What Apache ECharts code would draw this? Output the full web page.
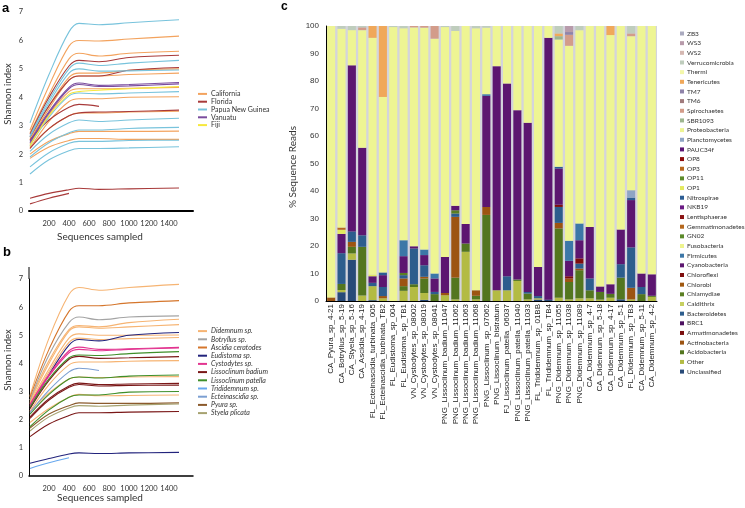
<!DOCTYPE html>
<html>
<head>
<meta charset="utf-8">
<script src="https://cdn.jsdelivr.net/npm/echarts@6/dist/echarts.min.js"></script>
<style>
html, body { margin: 0; padding: 0; background: #fff; }
#chart { width: 745px; height: 508px; }
</style>
</head>
<body>
<div id="chart"></div>
<script>
// ---- panels a and b: rarefaction curves, y read at these sequence counts ----
var seqX = [10, 200, 400, 500, 700, 1000, 1500];

// panel a, by region
var aCalifornia = [
  [2.85, 4.4, 5.8, 6.0, 5.98, 6.05, 6.15],
  [2.75, 4.1, 5.35, 5.55, 5.45, 5.55, 5.62],
  [2.55, 3.7, 4.7, 4.85, 4.85, 4.95, 5.0],
  [2.5, 3.6, 4.6, 4.75, 4.75, 4.8, 4.85],
  [2.35, 3.4, 4.2, 4.3, 4.3, 4.32, 4.35],
  [2.2, 3.15, 3.85, 3.95, 3.95, 4.0, 4.02],
  [2.25, 2.9, 3.35, 3.45, 3.45, 3.48, 3.51],
  [2.0, 2.45, 2.72, 2.8, 2.8, 2.8, 2.81],
  [1.85, 2.25, 2.48, 2.55, 2.55, 2.52, 2.52]
];
var aFlorida = [
  [2.7, 4.0, 5.1, 5.3, 5.25, 5.4, 5.48],
  [2.6, 3.7, 4.6, 4.75, 4.75, 4.95, 5.05],
  [2.5, 3.2, 3.65, 3.75, 3.68, null, null],
  [2.2, 2.9, 3.35, 3.45, 3.48, 3.5, 3.55],
  [0.45, 0.62, 0.75, 0.8, 0.76, 0.78, 0.81],
  [0.25, 0.45, 0.62, null, null, null, null]
];
var aPNG = [
  [3.1, 4.8, 6.3, 6.6, 6.55, 6.62, 6.73],
  [2.65, 3.9, 5.0, 5.2, 5.12, 5.2, 5.3],
  [2.6, 3.8, 4.85, 5.0, 4.92, 4.93, 4.96],
  [2.3, 3.3, 4.05, 4.15, 4.12, 4.15, 4.2],
  [2.1, 2.7, 3.1, 3.2, 3.15, 3.2, 3.26],
  [1.9, 2.4, 2.75, 2.85, 2.85, 2.9, 2.94],
  [1.55, 2.05, 2.38, 2.45, 2.45, 2.48, 2.49],
  [1.3, 1.8, 2.12, 2.2, 2.2, 2.22, 2.26]
];
var aVanuatu = [
  [2.45, 3.5, 4.35, 4.5, 4.42, 4.45, 4.52],
  [2.4, 3.45, 4.3, 4.45, 4.38, 4.4, 4.47]
];
var aFiji = [
  [2.3, 3.35, 4.1, 4.2, 4.25, 4.3, 4.38]
];

// panel b, by genus
var bDidemnum = [
  [2.85, 4.9, 6.45, 6.7, 6.6, 6.7, 6.81],
  [2.7, 4.1, 5.2, 5.35, 5.3, 5.45, 5.57],
  [2.65, 4.0, 5.15, 5.3, 5.25, 5.3, 5.38],
  [2.6, 3.8, 4.9, 5.05, 5.0, 5.0, 5.01],
  [2.55, 3.7, 4.75, 4.9, 4.85, 4.88, 4.92],
  [2.3, 3.25, 3.95, 4.05, 4.05, 4.08, 4.1],
  [2.3, 2.95, 3.45, 3.52, 3.5, 3.52, 3.53],
  [1.9, 2.4, 2.8, 2.9, 2.85, 2.86, 2.88]
];
var bBotryllus = [[2.7, 4.3, 5.45, 5.65, 5.55, 5.65, 5.69]];
var bAscidia = [[2.8, 4.5, 5.85, 6.05, 6.05, 6.15, 6.23]];
var bEudistoma = [
  [2.4, 3.6, 4.65, 4.85, 4.8, 5.0, 5.1],
  [0.45, 0.62, 0.78, 0.82, 0.8, 0.82, 0.84]
];
var bCystodytes = [
  [2.55, 3.6, 4.45, 4.58, 4.5, 4.52, 4.57],
  [2.5, 3.55, 4.38, 4.5, 4.45, 4.5, 4.55]
];
var bBadium = [
  [2.4, 3.4, 4.15, 4.25, 4.18, 4.2, 4.24],
  [2.1, 2.75, 3.2, 3.3, 3.25, 3.27, 3.29],
  [2.05, 2.7, 3.15, 3.25, 3.2, 3.22, 3.23],
  [1.4, 1.85, 2.15, 2.25, 2.25, 2.27, 2.29]
];
var bPatella = [
  [2.45, 3.45, 4.2, 4.3, 4.28, 4.35, 4.42],
  [2.2, 2.9, 3.45, 3.52, 3.48, 3.55, 3.59],
  [1.75, 2.35, 2.8, 2.88, 2.88, 2.98, 3.0]
];
var bTrididemnum = [[0.27, 0.47, 0.65, null, null, null, null]];
var bEcteinascidia = [[2.25, 3.05, 3.7, 3.83, 3.75, null, null]];
var bPyura = [[1.7, 2.2, 2.5, 2.6, 2.58, 2.58, 2.6]];
var bStyela = [[1.6, 2.1, 2.42, 2.5, 2.48, 2.52, 2.56]];

// ---- panel c: % sequence reads per sample ----
var samples = ['CA_Pyura_sp_4-21', 'CA_Botryllus_sp_5-19', 'CA_Styela_sp_5-16', 'CA_Ascidia_sp_4-19',
  'FL_Ecteinascidia_turbinata_005', 'FL_Ecteinascidia_turbinata_TB2', 'FL_Eudistoma_sp_004', 'FL_Eudistoma_sp_TB1',
  'VN_Cystodytes_sp_08002', 'VN_Cystodytes_sp_08019', 'VN_Cystodytes_sp_08041', 'PNG_Lissoclinum_badium_11047',
  'PNG_Lissoclinum_badium_11062', 'PNG_Lissoclinum_badium_11063', 'PNG_Lissoclinum_badium_11068', 'PNG_Lissoclinum_sp_07062',
  'PNG_Lissoclinum_bistratum', 'FJ_Lissoclinum_patella_06037', 'PNG_Lissoclinum_patella_11040', 'PNG_Lissoclinum_patella_11033',
  'FL_Trididemnum_sp_01BB', 'FL_Trididemnum_sp_TB4', 'PNG_Didemnum_sp_11055', 'PNG_Didemnum_sp_11038',
  'PNG_Didemnum_sp_11089', 'CA_Didemnum_sp_4-7', 'CA_Didemnum_sp_5-18', 'CA_Didemnum_sp_4-17',
  'CA_Didemnum_sp_5-1', 'FL_Didemnum_sp_TB3', 'CA_Didemnum_sp_5-11', 'CA_Didemnum_sp_4-2'];

var unclassified   = [0,3.2,15.0,0,0.3,0,0,0,0,0.4,0,0,0,0,0,0,0,0,0,0,0.5,0.5,0,0,0,0,0,0,0.6,0,0,0];
var other          = [0,0.8,2.3,2.0,5.1,1.0,0,3.7,5.1,2.5,0,2.1,0.6,17.9,0.6,0,3.9,3.9,7.3,0.6,0.5,0,1.2,0.6,1.0,1.0,0.5,1.2,0,0.6,0,1.5];
var acidobacteria  = [0,2.2,2.4,17.7,0,0,0,1.7,1.0,5.3,2.5,0,7.9,3.0,1.3,31.3,0,0,0.5,2.1,0,0,25.2,6.3,10.2,2.9,2.8,1.4,7.9,0,2.5,0.4];
var actinobacteria = [1.3,0,1.8,0,0,0.8,0,2.8,0,0.6,0,0.8,22.1,0,2.0,2.9,0,0,0,0,0,0,2.0,1.3,0.6,0,0,0,0,4.2,0,0];
var bacteroidetes  = [0,11.2,3.8,4.2,1.2,3.3,0,1.2,13.0,4.2,0.8,0,1.2,0,0,0,0,5.1,0,0.6,0.8,0,5.8,0,1.8,4.3,0,0,4.9,14.7,2.6,0];
var chlamydiae     = [0,0,0,0,0,0,0,0.8,0,0,0,0,1.2,0,0,0,0,0,0,0,0,0,0,0,0,0,0,0,0,0,0,0];
var chloroflexi    = [0,0,0,0,0,0,0,0,0,0,0,0,0,0,0,0,0,0,0,0,0,0,0.8,0.8,1.9,0,0,0,0,0,0,0];
var cyanobacteria  = [0,7.0,60.4,31.8,2.4,4.3,0,6.1,0.8,3.7,4.9,13.1,1.6,7.1,0,40.4,81.5,70.1,61.6,61.5,10.6,95.2,13.2,5.6,6.6,18.7,2.0,3.5,12.6,17.2,4.9,7.8];
var firmicutes     = [0,0,0,0,0,0,0,5.8,0,2.0,1.8,0,0,0,0,0.6,0,0,0,0,0,0,0,7.3,6.1,0,0,0,0,0,0,0];
var nitrospirae    = [0,0,0,0,0,1.0,0,0,0,0,0,0,0,0,0,0,0,0,0,0,0,0,0.6,0,0,0,0,0,0,0.9,0,0];
var op1            = [0,1.5,0,0,0.6,0,0,0,0,0,0,0,0,0,0,0,0,0,0,0,0,0,0,0,0,0,0,0,0,0,0,0];
var op3            = [0,0.8,0,0,0,0,0,0,0,0,0,0,0,0,0,0,0,0,0,0,0,0,0,0,0,0,0,0,0,0,0,0];
var planctomycetes = [0,0,0,0,0,0,0,0,0,0,0,0,0,0,0,0,0,0,0,0,0,0,0,0,0,0,0,0,0,2.7,0,0];
var proteobacteria = [98.7,72.3,12.8,42.8,86.1,63.8,99.6,77.1,79.6,80.7,85.4,83.6,63.6,72.0,95.3,24.2,14.6,20.9,30.6,35.2,87.6,4.3,46.3,70.9,70.3,73.1,94.7,90.6,74.0,56.0,90.0,90.3];
var sbr1093        = [0,0,0,0,0,0,0,0,0,0,0,0,0,0,0,0,0,0,0,0,0,0,1.2,0,0,0,0,0,0,0,0,0];
var spirochaetes   = [0,0,0,1.0,0,0,0,0,0.5,0.6,4.6,0,0,0,0,0,0,0,0,0,0,0,0,4.0,0,0,0,0,0,1.0,0,0];
var tm7            = [0,0,0,0,0,0,0,0,0,0,0,0,0,0,0,0,0,0,0,0,0,0,0,1.0,0,0,0,0,0,0,0,0];
var tenericutes    = [0,0,0,0,4.3,25.8,0,0,0,0,0,0,0,0,0,0,0,0,0,0,0,0,1.0,0,0,0,0,3.3,0,0,0,0];
var verrucomicrobia= [0,1.0,1.5,0.5,0,0,0.4,0.8,0,0,0,0.4,1.8,0,0.8,0.6,0,0,0,0,0,0,2.7,0,1.5,0,0,0,0,2.7,0,0];
var ws3            = [0,0,0,0,0,0,0,0,0,0,0,0,0,0,0,0,0,0,0,0,0,0,0,2.2,0,0,0,0,0,0,0,0];

// legend order, top to bottom (stack goes the other way)
var phyla = ['ZB3','WS3','WS2','Verrucomicrobia','Thermi','Tenericutes','TM7','TM6','Spirochaetes','SBR1093',
  'Proteobacteria','Planctomycetes','PAUC34f','OP8','OP3','OP11','OP1','Nitrospirae','NKB19','Lentisphaerae',
  'Gemmatimonadetes','GN02','Fusobacteria','Firmicutes','Cyanobacteria','Chloroflexi','Chlorobi','Chlamydiae',
  'Caldithrix','Bacteroidetes','BRC1','Armatimonadetes','Actinobacteria','Acidobacteria','Other','Unclassified'];

var phylumValues = {
  'Unclassified': unclassified, 'Other': other, 'Acidobacteria': acidobacteria, 'Actinobacteria': actinobacteria,
  'Bacteroidetes': bacteroidetes, 'Chlamydiae': chlamydiae, 'Chloroflexi': chloroflexi, 'Cyanobacteria': cyanobacteria,
  'Firmicutes': firmicutes, 'Nitrospirae': nitrospirae, 'OP1': op1, 'OP3': op3, 'Planctomycetes': planctomycetes,
  'Proteobacteria': proteobacteria, 'SBR1093': sbr1093, 'Spirochaetes': spirochaetes, 'TM7': tm7,
  'Tenericutes': tenericutes, 'Verrucomicrobia': verrucomicrobia, 'WS3': ws3
};

var phylumColors = {
  'ZB3': '#aaaabf', 'WS3': '#b89bab', 'WS2': '#d5b8b2', 'Verrucomicrobia': '#bfcdbd', 'Thermi': '#f4f7aa',
  'Tenericutes': '#f0a85a', 'TM7': '#8f83a9', 'TM6': '#a07b7d', 'Spirochaetes': '#d39c8a', 'SBR1093': '#9db690',
  'Proteobacteria': '#eef593', 'Planctomycetes': '#8fa5c5', 'PAUC34f': '#5b1575', 'OP8': '#8e0c0c', 'OP3': '#b8681f',
  'OP11': '#5d8c2a', 'OP1': '#e3e95e', 'Nitrospirae': '#2c5d93', 'NKB19': '#6b1b84', 'Lentisphaerae': '#8a1212',
  'Gemmatimonadetes': '#b5681e', 'GN02': '#5b8a2a', 'Fusobacteria': '#eef48e', 'Firmicutes': '#3c77a7',
  'Cyanobacteria': '#5c1670', 'Chloroflexi': '#7e0d0d', 'Chlorobi': '#a0580f', 'Chlamydiae': '#5a7e22',
  'Caldithrix': '#c6cf60', 'Bacteroidetes': '#2d5d8d', 'BRC1': '#4d1060', 'Armatimonadetes': '#7a0e0e',
  'Actinobacteria': '#9c5412', 'Acidobacteria': '#53761f', 'Other': '#b3bb43', 'Unclassified': '#284a78'
};

var regionColors = { 'California': '#f3a35e', 'Florida': '#a83a3a', 'Papua New Guinea': '#78c3dc', 'Vanuatu': '#7a4c9e', 'Fiji': '#f6e83c' };
var genusColors = {
  'Didemnum sp.': '#f6b473', 'Botryllus sp.': '#a4a4a4', 'Ascidia ceratodes': '#d5762c', 'Eudistoma sp.': '#22237c',
  'Cystodytes sp.': '#e23590', 'Lissoclinum badium': '#7a1717', 'Lissoclinum patella': '#3f8f2a',
  'Trididemnum sp.': '#68a8ee', 'Ecteinascidia sp.': '#7c9fd2', 'Pyura sp.': '#8b5a2c', 'Styela plicata': '#a6a270'
};

var chart = echarts.init(document.getElementById('chart'));
var series = [];

function addCurves(name, curves, color, idx) {
  curves.forEach(function (ys) {
    var pts = [];
    ys.forEach(function (y, i) { if (y !== null) pts.push([seqX[i], y]); });
    series.push({
      name: name, type: 'line', xAxisIndex: idx, yAxisIndex: idx, data: pts,
      smooth: 0.35, showSymbol: false, silent: true,
      lineStyle: { width: 1.1, color: color }, itemStyle: { color: color }
    });
  });
}

addCurves('California', aCalifornia, regionColors['California'], 0);
addCurves('Florida', aFlorida, regionColors['Florida'], 0);
addCurves('Papua New Guinea', aPNG, regionColors['Papua New Guinea'], 0);
addCurves('Vanuatu', aVanuatu, regionColors['Vanuatu'], 0);
addCurves('Fiji', aFiji, regionColors['Fiji'], 0);

addCurves('Didemnum sp.', bDidemnum, genusColors['Didemnum sp.'], 1);
addCurves('Botryllus sp.', bBotryllus, genusColors['Botryllus sp.'], 1);
addCurves('Ascidia ceratodes', bAscidia, genusColors['Ascidia ceratodes'], 1);
addCurves('Eudistoma sp.', bEudistoma, genusColors['Eudistoma sp.'], 1);
addCurves('Cystodytes sp.', bCystodytes, genusColors['Cystodytes sp.'], 1);
addCurves('Lissoclinum badium', bBadium, genusColors['Lissoclinum badium'], 1);
addCurves('Lissoclinum patella', bPatella, genusColors['Lissoclinum patella'], 1);
addCurves('Trididemnum sp.', bTrididemnum, genusColors['Trididemnum sp.'], 1);
addCurves('Ecteinascidia sp.', bEcteinascidia, genusColors['Ecteinascidia sp.'], 1);
addCurves('Pyura sp.', bPyura, genusColors['Pyura sp.'], 1);
addCurves('Styela plicata', bStyela, genusColors['Styela plicata'], 1);

// stacked bars, bottom of stack = last legend entry
phyla.slice().reverse().forEach(function (p) {
  series.push({
    name: p, type: 'bar', stack: 'reads', xAxisIndex: 2, yAxisIndex: 2,
    data: phylumValues[p] || [], barCategoryGap: '22%', silent: true,
    itemStyle: { color: phylumColors[p] }
  });
});

var tickFont = { fontFamily: 'Lato', fontSize: 7.5, color: '#333' };

function curveX(idx, lineW, showY) {
  return [{
    type: 'value', gridIndex: idx, min: 0, max: 1640, interval: 200,
    axisLine: { show: true, lineStyle: { color: '#000', width: lineW } },
    axisTick: { show: false }, splitLine: { show: false },
    axisLabel: Object.assign({ margin: 9, formatter: function (v) { return (v > 0 && v < 1500) ? v : ''; } }, tickFont)
  }, {
    type: 'value', gridIndex: idx, min: 0, max: 7, interval: 1,
    axisLine: { show: showY, lineStyle: { color: '#000', width: 1 } },
    axisTick: { show: false }, splitLine: { show: false },
    axisLabel: Object.assign({ margin: 6 }, tickFont)
  }];
}
var ax0 = curveX(0, 2, false), ax1 = curveX(1, 1.5, true);

chart.setOption({
  animation: false,
  backgroundColor: '#fff',
  grid: [
    { left: 29, top: 12, width: 164, height: 199 },
    { left: 29, top: 279, width: 164, height: 197 },
    { left: 326, top: 26, width: 331, height: 275, show: true, backgroundColor: '#d4d4dc', borderWidth: 0 }
  ],
  xAxis: [ax0[0], ax1[0], {
    type: 'category', gridIndex: 2, data: samples,
    axisLine: { lineStyle: { color: '#000', width: 1 } }, axisTick: { show: false },
    axisLabel: { interval: 0, rotate: 90, margin: 3, fontFamily: 'Liberation Sans', fontSize: 8, color: '#222' }
  }],
  yAxis: [ax0[1], ax1[1], {
    type: 'value', gridIndex: 2, min: 0, max: 100, interval: 10,
    axisLine: { show: true, lineStyle: { color: '#000', width: 1 } }, axisTick: { show: false },
    splitLine: { show: false },
    axisLabel: { margin: 7, fontFamily: 'Liberation Sans', fontSize: 8, color: '#333' }
  }],
  legend: [{
    data: Object.keys(regionColors), left: 193, top: 85, orient: 'vertical',
    icon: 'rect', itemWidth: 9, itemHeight: 2, itemGap: 0, selectedMode: false,
    textStyle: { fontFamily: 'Lato', fontSize: 7, lineHeight: 7.8, color: '#333', padding: [0, 0, 0, -1] }
  }, {
    data: Object.keys(genusColors), left: 193, top: 322, orient: 'vertical',
    icon: 'rect', itemWidth: 9, itemHeight: 2, itemGap: 0, selectedMode: false,
    textStyle: { fontFamily: 'Lato', fontSize: 7, fontStyle: 'italic', lineHeight: 8.2, color: '#333', padding: [0, 0, 0, -1] }
  }, {
    data: phyla, left: 675, top: 24, orient: 'vertical',
    icon: 'rect', itemWidth: 4, itemHeight: 4, itemGap: 0.66, selectedMode: false,
    textStyle: { fontFamily: 'Lato', fontSize: 6.5, lineHeight: 9, color: '#333', padding: [0, 0, 0, -2] }
  }],
  graphic: [
    { type: 'text', left: 2, top: 2, style: { text: 'a', font: 'bold 13px Liberation Sans', fill: '#000' } },
    { type: 'text', left: 3, top: 246, style: { text: 'b', font: 'bold 13px Liberation Sans', fill: '#000' } },
    { type: 'text', left: 281, top: 1, style: { text: 'c', font: 'bold 12px Liberation Sans', fill: '#000' } },
    { type: 'line', shape: { x1: 29, y1: 267, x2: 29, y2: 279 }, style: { stroke: '#000', lineWidth: 1 } },
    { type: 'text', x: 8, y: 94, rotation: Math.PI / 2, style: { text: 'Shannon index', font: '9.5px Lato', fill: '#333', align: 'center', verticalAlign: 'middle' } },
    { type: 'text', x: 8, y: 360, rotation: Math.PI / 2, style: { text: 'Shannon index', font: '9.5px Lato', fill: '#333', align: 'center', verticalAlign: 'middle' } },
    { type: 'text', x: 100, y: 237, style: { text: 'Sequences sampled', font: '10px Lato', fill: '#333', align: 'center', verticalAlign: 'middle' } },
    { type: 'text', x: 100, y: 498, style: { text: 'Sequences sampled', font: '10px Lato', fill: '#333', align: 'center', verticalAlign: 'middle' } },
    { type: 'text', x: 293, y: 167, rotation: Math.PI / 2, style: { text: '% Sequence Reads', font: '10px Lato', fill: '#333', align: 'center', verticalAlign: 'middle' } }
  ],
  series: series
});
</script>
</body>
</html>
